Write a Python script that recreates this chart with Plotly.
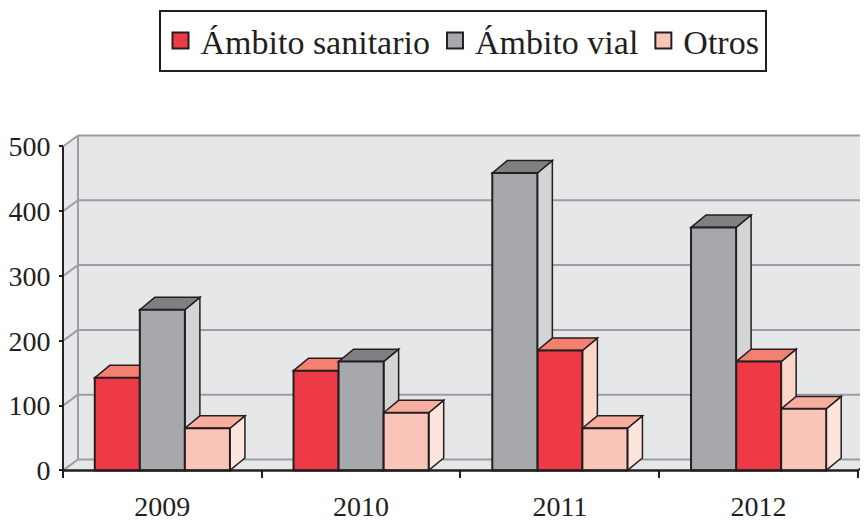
import plotly.graph_objects as go

# ---- data ----
years = ["2009", "2010", "2011", "2012"]
series_names = ["Ámbito sanitario", "Ámbito vial", "Otros"]
sanitario = [143, 154, 185, 168]
vial = [248, 168, 459, 375]
otros = [65, 89, 65, 95]
y_ticks = [0, 100, 200, 300, 400, 500]
# left-to-right order of the series inside each year group (as in the original)
slot_order = [[0, 1, 2], [0, 1, 2], [1, 0, 2], [1, 0, 2]]

values = [sanitario, vial, otros]
front_colors = ["#ee3a46", "#a7a8ab", "#f9c5b8"]
top_colors = ["#f4806f", "#808083", "#f8ae9f"]
side_colors = ["#fdd6ca", "#d3d4d6", "#fde4dd"]

INK = "#231f20"
WALL = "#e6e7e9"
GRID = "#9c9da0"
FONT = "Liberation Serif"

# ---- geometry (pixel mapping; page body has an 8px margin) ----
W, H = 860, 514
px_x = 198.75          # px per category
px_y = 0.652           # px per value unit
x_left_px = 55.0       # pixel of category -0.5 (in figure coords)
y_base_px = 465.0      # pixel of value 0
xmin = -0.52
ymin, ymax = -4, 530

l = x_left_px + (xmin + 0.5) * px_x
xmax = xmin + (W - l) / px_x
r = 0
t = y_base_px - ymax * px_y
plot_h = (ymax - ymin) * px_y
b = max(0, H - t - plot_h)

dxw = 15 / px_x        # wall depth offset
dyw = 11 / px_y
dxb = 15 / px_x        # bar depth offset
dyb = 12.5 / px_y

group_w = 0.68
bw = group_w / 3

def slot_of(k, i):
    return slot_order[i].index(k)

fig = go.Figure()
for k, name in enumerate(series_names):
    fig.add_trace(go.Bar(
        name=name, x=years, y=values[k],
        width=bw, showlegend=False,
        offset=[-group_w / 2 + slot_of(k, i) * bw for i in range(len(years))],
        marker=dict(color=front_colors[k], line=dict(color=INK, width=2)),
    ))
# legend entries with larger square swatches
for k, name in enumerate(series_names):
    fig.add_trace(go.Scatter(
        name=name, x=[None], y=[None], mode="markers", showlegend=True,
        marker=dict(symbol="square", size=16, color=front_colors[k],
                    line=dict(color=INK, width=2)),
    ))

shapes = []
def poly(pts):
    return "M" + " L".join(f"{x},{y}" for x, y in pts) + " Z"

# floor
shapes.append(dict(type="path", xref="x", yref="y", layer="below",
                   path=poly([(-0.5, 0), (3.5, 0), (3.5 + dxw, dyw), (-0.5 + dxw, dyw)]),
                   fillcolor=WALL, line=dict(width=0)))
# back wall
shapes.append(dict(type="rect", xref="x", yref="y", layer="below",
                   x0=-0.5 + dxw, x1=xmax + 1, y0=dyw, y1=y_ticks[-1] + dyw,
                   fillcolor=WALL, line=dict(width=0)))
# side wall
shapes.append(dict(type="path", xref="x", yref="y", layer="below",
                   path=poly([(-0.5, 0), (-0.5 + dxw, dyw), (-0.5 + dxw, y_ticks[-1] + dyw), (-0.5, y_ticks[-1])]),
                   fillcolor=WALL, line=dict(width=0)))
# back wall gridlines & side wall diagonals
for v in y_ticks:
    shapes.append(dict(type="line", xref="x", yref="y", layer="below",
                       x0=-0.5 + dxw, x1=xmax + 1, y0=v + dyw, y1=v + dyw,
                       line=dict(color=GRID, width=2)))
    shapes.append(dict(type="line", xref="x", yref="y", layer="below",
                       x0=-0.5, x1=-0.5 + dxw, y0=v, y1=v + dyw,
                       line=dict(color=GRID, width=2)))
shapes.append(dict(type="line", xref="x", yref="y", layer="below",
                   x0=-0.5 + dxw, x1=-0.5 + dxw, y0=dyw, y1=y_ticks[-1] + dyw,
                   line=dict(color=GRID, width=2)))
# floor right edge
shapes.append(dict(type="line", xref="x", yref="y", layer="below",
                   x0=3.5, x1=3.5 + dxw, y0=0, y1=dyw,
                   line=dict(color=INK, width=2)))

# 3D faces of bars (sides and tops), ordered left to right
for i in range(len(years)):
    for s, k in enumerate(slot_order[i]):
        v = values[k][i]
        x0 = i - group_w / 2 + s * bw
        x1 = x0 + bw
        shapes.append(dict(type="path", xref="x", yref="y", layer="below",
                           path=poly([(x1, 0), (x1 + dxb, dyb), (x1 + dxb, v + dyb), (x1, v)]),
                           fillcolor=side_colors[k], line=dict(color=INK, width=1.5)))
        shapes.append(dict(type="path", xref="x", yref="y", layer="below",
                           path=poly([(x0, v), (x0 + dxb, v + dyb), (x1 + dxb, v + dyb), (x1, v)]),
                           fillcolor=top_colors[k], line=dict(color=INK, width=1.5)))

# axis lines
shapes.append(dict(type="line", xref="x", yref="y", layer="above",
                   x0=-0.5, x1=3.5, y0=0, y1=0, line=dict(color=INK, width=2.5)))
shapes.append(dict(type="line", xref="x", yref="y", layer="above",
                   x0=-0.5, x1=-0.5, y0=0, y1=y_ticks[-1], line=dict(color=INK, width=2)))

fig.update_layout(
    width=W, height=H,
    margin=dict(l=l, r=r, t=t, b=b, pad=0),
    paper_bgcolor="white", plot_bgcolor="white",
    barmode="overlay",
    shapes=shapes,
    font=dict(family=FONT, color=INK, size=28),
    showlegend=True,
    legend=dict(orientation="h", xref="container", yref="container",
                x=454.5 / W, xanchor="center", y=1 - 2 / H, yanchor="top",
                font=dict(family=FONT, size=34, color=INK),
                bordercolor=INK, borderwidth=2, bgcolor="white",
                itemwidth=30, tracegroupgap=0),
    xaxis=dict(type="category", range=[xmin, xmax], showgrid=False, zeroline=False,
               showline=False, ticks="outside", tickson="boundaries", ticklen=7,
               tickwidth=2, tickcolor=INK, anchor="free",
               position=(0 - ymin) / (ymax - ymin),
               tickfont=dict(family=FONT, size=28, color=INK), ticklabelstandoff=17),
    yaxis=dict(range=[ymin, ymax], showgrid=False, zeroline=False, showline=False,
               tickvals=y_ticks, ticks="outside", ticklen=4, tickwidth=2, tickcolor=INK,
               anchor="free", position=(-0.5 - xmin) / (xmax - xmin),
               tickfont=dict(family=FONT, size=28, color=INK), ticklabelstandoff=3),
)

fig.write_html("out.html")
